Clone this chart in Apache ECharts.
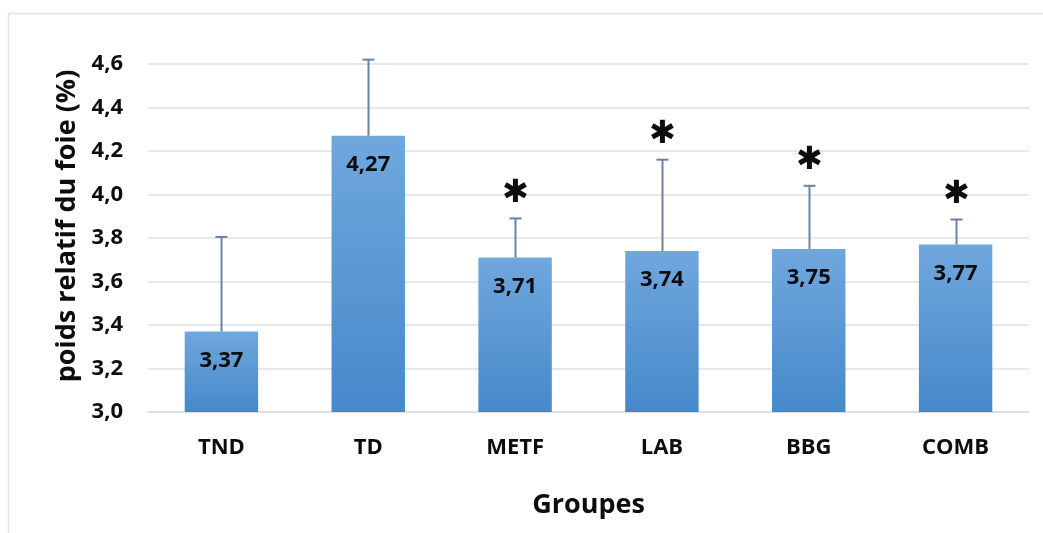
<!DOCTYPE html>
<html>
<head>
<meta charset="utf-8">
<script src="https://cdn.jsdelivr.net/npm/echarts@6/dist/echarts.min.js"></script>
<style>
  html, body { margin: 0; padding: 0; background: #fff; }
  #chart { width: 1043px; height: 533px; }
</style>
</head>
<body>
<div id="chart"></div>
<script>
// Relative liver weight per group: mean and upper SD bar
const groups = ['TND', 'TD', 'METF', 'LAB', 'BBG', 'COMB'];
const means = [3.37, 4.27, 3.71, 3.74, 3.75, 3.77];
const errors = [0.435, 0.35, 0.18, 0.42, 0.29, 0.115];
const significant = [false, false, true, true, true, true];
const yMin = 3.0, yMax = 4.6, yStep = 0.2;

const fmt = (v, d) => v.toFixed(d).replace('.', ',');
const FONT = '"Open Sans"';

const errData = groups.map((g, i) => [i, means[i], means[i] + errors[i], significant[i] ? 1 : 0]);

const chart = echarts.init(document.getElementById('chart'));
chart.setOption({
  animation: false,
  backgroundColor: '#fff',
  grid: { left: 148, right: 14, top: 64, bottom: 121 },
  graphic: [{
    type: 'rect',
    shape: { x: 8.5, y: 13.5, width: 1060, height: 560 },
    style: { fill: 'none', stroke: '#dfe3e8', lineWidth: 1.5 },
    silent: true, z: -10
  }],
  xAxis: {
    type: 'category',
    data: groups,
    name: 'Groupes',
    nameLocation: 'middle',
    nameGap: 80,
    nameTextStyle: { fontFamily: FONT, fontWeight: 'bold', fontSize: 27, color: '#0d0d0d' },
    axisLine: { show: true, lineStyle: { color: '#d9dde3', width: 1.5 } },
    axisTick: { show: false },
    axisLabel: { margin: 25, fontFamily: FONT, fontWeight: 'bold', fontSize: 22, color: '#0d0d0d' }
  },
  yAxis: {
    type: 'value',
    min: yMin, max: yMax, interval: yStep,
    name: 'poids relatif du foie (%)',
    nameLocation: 'middle',
    nameGap: 66,
    nameTextStyle: { fontFamily: FONT, fontWeight: 'bold', fontSize: 27, color: '#0d0d0d', padding: [0, 0, 0, 24] },
    axisLine: { show: false },
    axisTick: { show: false },
    splitLine: { lineStyle: { color: '#dde1e7', width: 1.5 } },
    axisLabel: {
      margin: 25, fontFamily: FONT, fontWeight: 'bold', fontSize: 22, color: '#0d0d0d',
      formatter: v => fmt(v, 1)
    }
  },
  series: [{
    type: 'bar',
    data: means,
    barWidth: '50%',
    itemStyle: {
      color: new echarts.graphic.LinearGradient(0, 0, 0, 1, [
        { offset: 0, color: '#70a7dd' },
        { offset: 1, color: '#4689ca' }
      ])
    },
    label: {
      show: true, position: 'insideTop', distance: 18,
      fontFamily: FONT, fontWeight: 'bold', fontSize: 22, color: '#0d0d0d',
      formatter: p => fmt(p.value, 2)
    },
    z: 2
  }, {
    type: 'custom',
    data: errData,
    z: 3,
    renderItem: (params, api) => {
      const base = api.coord([api.value(0), api.value(1)]);
      const top = api.coord([api.value(0), api.value(2)]);
      const x = Math.round(base[0]) + 0.5;
      const stroke = { stroke: '#6a82a2', lineWidth: 2 };
      const children = [
        { type: 'line', shape: { x1: x, y1: base[1], x2: x, y2: top[1] }, style: stroke },
        { type: 'line', shape: { x1: x - 6, y1: top[1], x2: x + 6, y2: top[1] }, style: stroke }
      ];
      if (api.value(3)) {
        children.push({
          type: 'text',
          style: {
            text: '✱', x: x, y: top[1] - 25,
            align: 'center', verticalAlign: 'middle',
            font: 'bold 32px "DejaVu Sans"', fill: '#0d0d0d'
          }
        });
      }
      return { type: 'group', children };
    }
  }]
});
</script>
</body>
</html>
